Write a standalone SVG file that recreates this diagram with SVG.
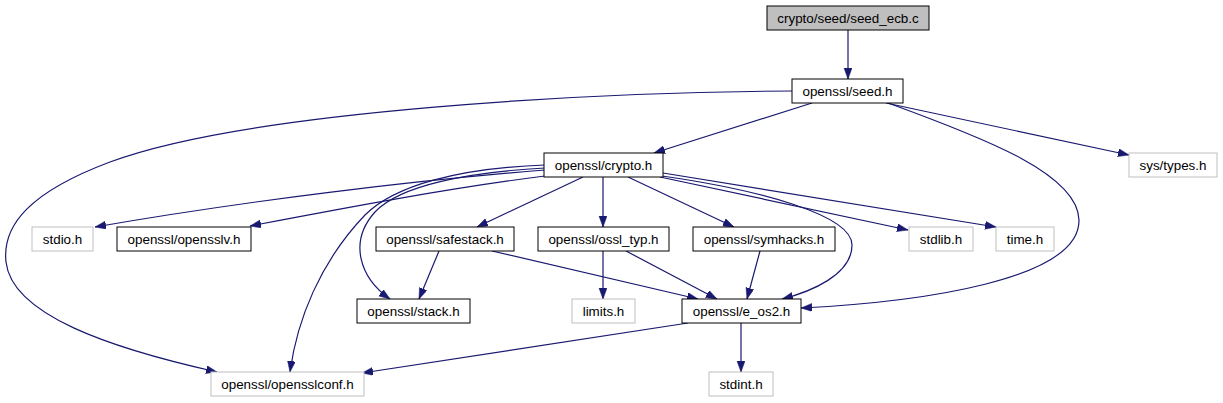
<svg xmlns="http://www.w3.org/2000/svg" width="1223" height="403" viewBox="0 0 1223 403">
<style>
.n rect{fill:#fff;stroke:#000;stroke-width:1}
.g rect{fill:#fff;stroke:#bfbfbf;stroke-width:1}
.r rect{fill:#bfbfbf;stroke:#000;stroke-width:1}
text{font-family:"Liberation Sans",Arial,sans-serif;font-size:13.4px;text-anchor:middle;fill:#000}
#edges path{fill:none;stroke:#191970;stroke-width:1.2;marker-end:url(#a)}
</style>
<defs>
<marker id="a" markerUnits="userSpaceOnUse" markerWidth="12" markerHeight="9" refX="11" refY="4" orient="auto">
<path d="M0,0 L11,4 L0,8 z" fill="#191970" stroke="#191970" stroke-width="0.5"/>
</marker>
</defs>
<rect width="1223" height="403" fill="#fff"/>
<g id="edges">
<path d="M848,30 L848,79"/>
<path d="M812,103 L654,153"/>
<path d="M886,103 L1129,155"/>
<path d="M888,103 C990,140 1078,175 1079,220 C1080,280 920,302 801,308"/>
<path d="M792,91 C600,92 250,110 110,162 C30,192 2,225 6,262 C12,315 110,348 217,372"/>
<path d="M545,170 C420,180 250,200 95,227"/>
<path d="M545,176 C450,188 350,207 250,226"/>
<path d="M545,168 C470,172 400,185 375,212 C348,242 360,278 390,299"/>
<path d="M545,165 C460,168 395,185 365,215 C320,262 297,320 290,372"/>
<path d="M583,177 L477,227"/>
<path d="M603,177 L603,227"/>
<path d="M628,177 L734,227"/>
<path d="M660,177 L908,230"/>
<path d="M663,173 L996,227"/>
<path d="M662,176 C760,190 852,215 852,245 C852,275 810,292 782,299"/>
<path d="M439,251 L419,299"/>
<path d="M492,251 L698,299"/>
<path d="M603,251 L603,299"/>
<path d="M626,251 L717,299"/>
<path d="M760,251 L747,299"/>
<path d="M688,323 L362,373"/>
<path d="M741,323 L741,372"/>
</g>
<g id="seed_ecb_c" class="r"><rect x="767" y="6" width="162" height="24"/><text x="848" y="23">crypto/seed/seed_ecb.c</text></g>
<g id="seed_h" class="n"><rect x="792" y="79" width="111" height="24"/><text x="847.5" y="96">openssl/seed.h</text></g>
<g id="crypto_h" class="n"><rect x="544" y="153" width="119" height="24"/><text x="603.5" y="170">openssl/crypto.h</text></g>
<g id="sys_types_h" class="g"><rect x="1129" y="153" width="88" height="24"/><text x="1173" y="170">sys/types.h</text></g>
<g id="stdio_h" class="g"><rect x="32" y="227" width="61" height="24"/><text x="62.5" y="244">stdio.h</text></g>
<g id="opensslv_h" class="n"><rect x="117" y="227" width="134" height="24"/><text x="184" y="244">openssl/opensslv.h</text></g>
<g id="safestack_h" class="n"><rect x="376" y="227" width="138" height="24"/><text x="445" y="244">openssl/safestack.h</text></g>
<g id="ossl_typ_h" class="n"><rect x="538" y="227" width="131" height="24"/><text x="603.5" y="244">openssl/ossl_typ.h</text></g>
<g id="symhacks_h" class="n"><rect x="693" y="227" width="142" height="24"/><text x="764" y="244">openssl/symhacks.h</text></g>
<g id="stdlib_h" class="g"><rect x="909" y="227" width="64" height="24"/><text x="941" y="244">stdlib.h</text></g>
<g id="time_h" class="g"><rect x="996" y="227" width="58" height="24"/><text x="1025" y="244">time.h</text></g>
<g id="stack_h" class="n"><rect x="357" y="299" width="113" height="24"/><text x="413.5" y="316">openssl/stack.h</text></g>
<g id="limits_h" class="g"><rect x="572" y="299" width="63" height="24"/><text x="603.5" y="316">limits.h</text></g>
<g id="e_os2_h" class="n"><rect x="682" y="299" width="119" height="24"/><text x="741.5" y="316">openssl/e_os2.h</text></g>
<g id="opensslconf_h" class="g"><rect x="211" y="372" width="153" height="24"/><text x="287.5" y="389">openssl/opensslconf.h</text></g>
<g id="stdint_h" class="g"><rect x="709" y="372" width="64" height="24"/><text x="741" y="389">stdint.h</text></g>
</svg>
